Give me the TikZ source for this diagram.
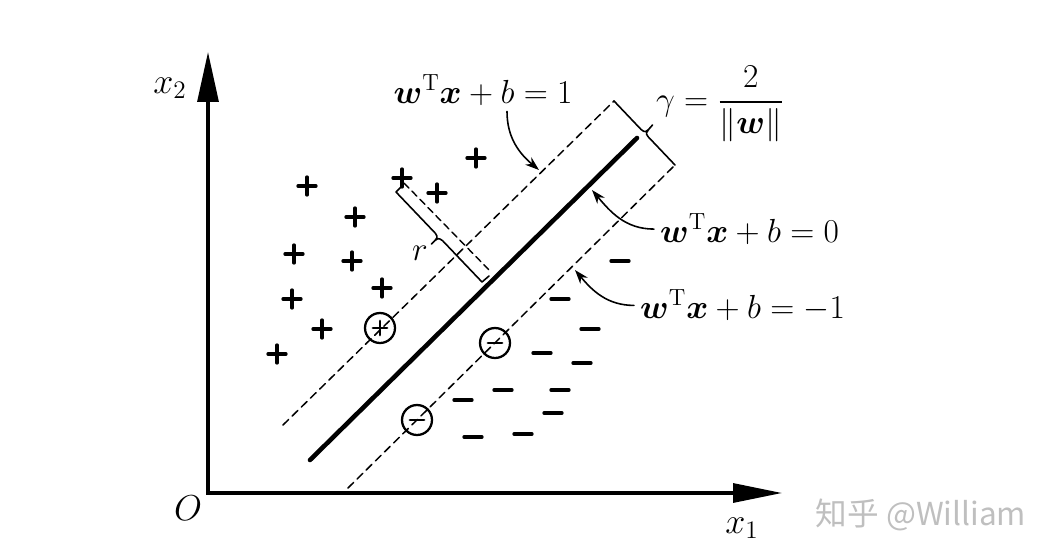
\RequirePackage{fix-cm}
\documentclass[tikz,border=0pt]{standalone}
\usepackage{amsmath}
\usepackage{fontspec}
\newfontfamily\cjk{Noto Sans CJK SC}
\usetikzlibrary{arrows.meta}

\tikzset{
  pos/.pic={\draw[line width=1.9pt] (-9,0) -- (9,0) (0,-9) -- (0,9);},
  neg/.pic={\draw[line width=1.9pt] (-9,0) -- (9,0);},
  ringpos/.pic={\draw[line width=1.3pt] (0,0) circle[radius=0.3cm];
    \draw[line width=1.7pt] (-7,0) -- (7,0) (0,-7) -- (0,7);},
  ringneg/.pic={\draw[line width=1.3pt] (0,0) circle[radius=0.3cm];
    \draw[line width=1.7pt] (-7,0) -- (7,0);},
  margin/.style={line width=0.85pt,dash pattern=on 4.5pt off 2.8pt},
  pointer/.style={line width=0.9pt,-{Stealth[length=8pt,width=5.5pt]}},
  eqlabel/.style={font=\fontsize{19}{22}\selectfont},
  axislabel/.style={font=\fontsize{20.5}{23}\selectfont},
}

\begin{document}
\begin{tikzpicture}[x=0.02cm,y=0.02cm,line cap=round,line join=round]
  \useasboundingbox (0,0) rectangle (1052,556);
  \coordinate (O) at (208,63);
  \coordinate (X1) at (782,63);
  \coordinate (X2) at (208,504);
  \draw[line width=1.8pt,line join=miter,line cap=butt,
    {Triangle[length=1cm,width=0.42cm]}-{Triangle[length=0.98cm,width=0.38cm]}] (X2) -- (O) -- (X1);
  \node[axislabel,anchor=base] (xtwo) at (170,463) {$x_2$};
  \node[axislabel,anchor=base] (xone) at (742,23) {$x_1$};
  \node[axislabel,anchor=base] (orig) at (188,36) {$O$};

  \coordinate (U1) at (283,131);
  \coordinate (U2) at (614,455);
  \coordinate (H1) at (310,96);
  \coordinate (H2) at (637,418);
  \coordinate (L1) at (348,68);
  \coordinate (L2) at (675,391);
  \draw[margin] (U1) -- (U2);
  \draw[line width=2.6pt] (H1) -- (H2);
  \draw[margin] (L1) -- (L2);
  \draw[line width=0.9pt] (U2) -- (641,426.6) .. controls (645.5,423) .. (652.5,431)
    .. controls (645.5,423) .. (648,419.4) -- (L2);

  \coordinate (R1) at (404,373);
  \coordinate (R2) at (491,284);
  \draw[line width=0.8pt,dash pattern=on 4pt off 2.5pt] (R1) -- (R2);
  \draw[line width=0.9pt] (403,371) -- (396,364) -- (435.5,322.6) .. controls (438,318.5) .. (431.5,312)
    .. controls (438,318.5) .. (442.5,315.4) -- (482,274) -- (489,280);
  \node[eqlabel] (rlab) at (420,303) {$r$};

  \foreach \x/\y in {476/398,307/370,402/378,437/363,355/339,294/302,352/295,292/257,382/268,322/227,277/202}
    \pic at (\x,\y) {pos};
  \foreach \x/\y in {620/295,560/257,590/227,542/203,582/193,503/166,560/166,463/156,553/143,473/119,523/122}
    \pic at (\x,\y) {neg};
  \pic at (380,228) {ringpos};
  \foreach \x/\y in {495/213,417/136}
    \pic at (\x,\y) {ringneg};

  \node[eqlabel,anchor=base] (eqone) at (483,453) {$\boldsymbol{w}^{\mathrm{T}}\boldsymbol{x}+b=1$};
  \node[eqlabel,anchor=base west] (eqzero) at (654,314) {$\boldsymbol{w}^{\mathrm{T}}\boldsymbol{x}+b=0$};
  \node[eqlabel,anchor=base west] (eqmone) at (634,238) {$\boldsymbol{w}^{\mathrm{T}}\boldsymbol{x}+b=-1$};
  \node[eqlabel] (gam) at (720,452) {$\gamma=\dfrac{2}{\|\boldsymbol{w}\|}$};

  \coordinate (onetip) at (539,386);
  \coordinate (zerotip) at (592,366);
  \coordinate (monetip) at (575,286);
  \draw[pointer] ([xshift=0.48cm]eqone.south) to[out=-90,in=140] (onetip);
  \draw[pointer] (eqzero.west) to[out=180,in=-50] (zerotip);
  \draw[pointer] (eqmone.west) to[out=180,in=-50] (monetip);

  \node[text=gray!50,font=\cjk\fontsize{18}{20}\selectfont] (mark) at (921,41) {知乎 @William};
\end{tikzpicture}
\end{document}
